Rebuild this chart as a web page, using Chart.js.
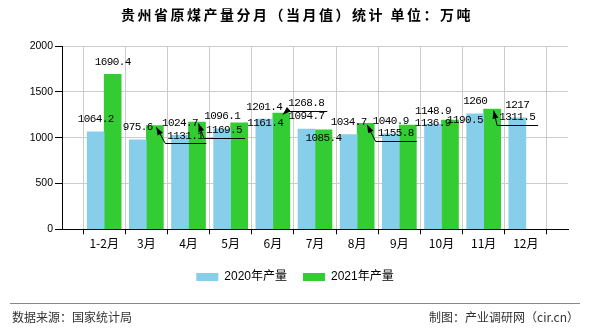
<!DOCTYPE html>
<html lang="zh-CN">
<head>
<meta charset="UTF-8">
<title>贵州省原煤产量分月（当月值）统计</title>
<script src="https://cdn.jsdelivr.net/npm/chart.js"></script>
<style>
  html, body { margin: 0; padding: 0; background: #fff; }
</style>
</head>
<body>
<canvas id="coalChart" width="590" height="330"></canvas>
<script>
// values (万吨)
const months = ['1-2月', '3月', '4月', '5月', '6月', '7月', '8月', '9月', '10月', '11月', '12月'];
const output2020 = [1064.2, 975.6, 1024.7, 1096.1, 1201.4, 1094.7, 1034.7, 1040.9, 1148.9, 1260, 1217];
const output2021 = [1690.4, 1131.1, 1169.5, 1161.4, 1268.8, 1085.4, 1155.8, 1136.9, 1190.5, 1311.5, null];
const yTickValues = [0, 500, 1000, 1500, 2000];
const seriesNames = ['2020年产量', '2021年产量'];

const titleText = '贵州省原煤产量分月（当月值）统计 单位：万吨';
const sourceText = '数据来源：国家统计局';
const makerText = '制图：产业调研网（cir.cn）';

// an empty slot at both ends so the month ticks sit on the grid lines
const axisLabels = [''].concat(months, ['']);
const pad = arr => [null].concat(arr, [null]);

// where value labels got pushed to avoid overlapping (offset from bar top)
const defaultShift = { dx: 0, dy: -12.5 };
const labelShift = {
    1: {
        '3月': { dx: 30.5, dy: 10, leader: true },
        '4月': { dx: 27, dy: 8, leader: true },
        '5月': { dx: 26, dy: 0 },
        '6月': { dx: 25, dy: -10, leader: true },
        '7月': { dx: 0, dy: 8.5 },
        '8月': { dx: 30, dy: 10, leader: true },
        '9月': { dx: 25, dy: -2 },
        '10月': { dx: 15, dy: 0 },
        '11月': { dx: 25, dy: 8, leader: true }
    }
};

function drawArrow(ctx, fromX, fromY, toX, toY) {
    const ang = Math.atan2(toY - fromY, toX - fromX);
    const len = 8, half = 3;
    ctx.beginPath();
    ctx.moveTo(toX, toY);
    ctx.lineTo(toX - len * Math.cos(ang) + half * Math.sin(ang), toY - len * Math.sin(ang) - half * Math.cos(ang));
    ctx.lineTo(toX - len * Math.cos(ang) - half * Math.sin(ang), toY - len * Math.sin(ang) + half * Math.cos(ang));
    ctx.closePath();
    ctx.fill();
}

const annotate = {
    id: 'annotate',
    afterDatasetsDraw(chart) {
        const ctx = chart.ctx;
        ctx.save();
        ctx.font = '11px "Liberation Mono", monospace';
        ctx.letterSpacing = '-0.6px';
        ctx.textAlign = 'center';
        ctx.textBaseline = 'middle';
        ctx.fillStyle = '#000';
        ctx.strokeStyle = '#000';
        ctx.lineWidth = 1;
        chart.data.datasets.forEach((ds, di) => {
            const meta = chart.getDatasetMeta(di);
            meta.data.forEach((bar, i) => {
                const v = ds.data[i];
                if (v == null) return;
                const shift = (labelShift[di] && labelShift[di][chart.data.labels[i]]) || defaultShift;
                const text = String(v);
                const lx = bar.x + shift.dx;
                const ly = bar.y + shift.dy;
                ctx.fillText(text, lx, ly);
                if (shift.leader) {
                    const w = ctx.measureText(text).width;
                    const ux = lx - w / 2 - 2;
                    const uy = Math.round(ly + 7.5) + 0.5;
                    const tipX = bar.x + 1.5, tipY = bar.y + 1.5;
                    ctx.beginPath();
                    ctx.moveTo(lx + w / 2 + 3, uy);
                    ctx.lineTo(ux, uy);
                    ctx.lineTo(tipX, tipY);
                    ctx.stroke();
                    drawArrow(ctx, ux, uy, tipX, tipY);
                }
            });
        });
        ctx.restore();
    },
    afterDraw(chart) {
        const ctx = chart.ctx;
        ctx.save();
        // title
        ctx.font = 'bold 14px "Noto Sans CJK SC"';
        ctx.letterSpacing = '2.5px';
        ctx.fillStyle = '#000';
        ctx.textAlign = 'center';
        ctx.textBaseline = 'middle';
        ctx.fillText(titleText, 297, 15);
        // footer
        ctx.letterSpacing = '0px';
        ctx.strokeStyle = '#888';
        ctx.lineWidth = 1;
        ctx.beginPath();
        ctx.moveTo(10, 303.5);
        ctx.lineTo(580, 303.5);
        ctx.stroke();
        ctx.font = '12px "Noto Sans CJK SC"';
        ctx.fillStyle = '#333';
        ctx.textAlign = 'left';
        ctx.fillText(sourceText, 12, 317);
        ctx.textAlign = 'right';
        ctx.fillText(makerText, 579, 317);
        ctx.restore();
    }
};

new Chart(document.getElementById('coalChart'), {
    type: 'bar',
    data: {
        labels: axisLabels,
        datasets: [{
            label: seriesNames[0],
            data: pad(output2020),
            backgroundColor: '#87ceeb',
            borderWidth: 0
        }, {
            label: seriesNames[1],
            data: pad(output2021),
            backgroundColor: '#33cc33',
            borderWidth: 0
        }]
    },
    options: {
        responsive: false,
        animation: false,
        events: [],
        layout: { padding: { top: 46, left: 22, right: 22, bottom: 37 } },
        datasets: { bar: { barThickness: 17 } },
        scales: {
            x: {
                offset: false,
                grid: { color: '#cccccc', tickColor: '#000', tickLength: 5 },
                border: { color: '#000' },
                ticks: {
                    autoSkip: false,
                    maxRotation: 0,
                    padding: 2,
                    color: '#000',
                    font: { size: 12, family: '"Noto Sans CJK SC"' }
                },
                afterFit(scale) { scale.height = 25.7; }
            },
            y: {
                min: 0,
                max: 2000,
                afterBuildTicks(scale) { scale.ticks = yTickValues.map(v => ({ value: v })); },
                grid: { color: '#cccccc', tickColor: '#000', tickLength: 7 },
                border: { color: '#000' },
                ticks: {
                    padding: 2,
                    color: '#000',
                    font: { size: 10.5, family: '"Liberation Sans", Arial' },
                    callback: v => String(v)
                },
                afterFit(scale) { scale.width = 40; }
            }
        },
        plugins: {
            title: { display: false },
            tooltip: { enabled: false },
            legend: {
                position: 'bottom',
                labels: {
                    boxWidth: 22,
                    boxHeight: 8,
                    padding: 16,
                    color: '#000',
                    font: { size: 12, family: '"Liberation Sans", "Noto Sans CJK SC"' }
                }
            }
        }
    },
    plugins: [annotate]
});
</script>
</body>
</html>
